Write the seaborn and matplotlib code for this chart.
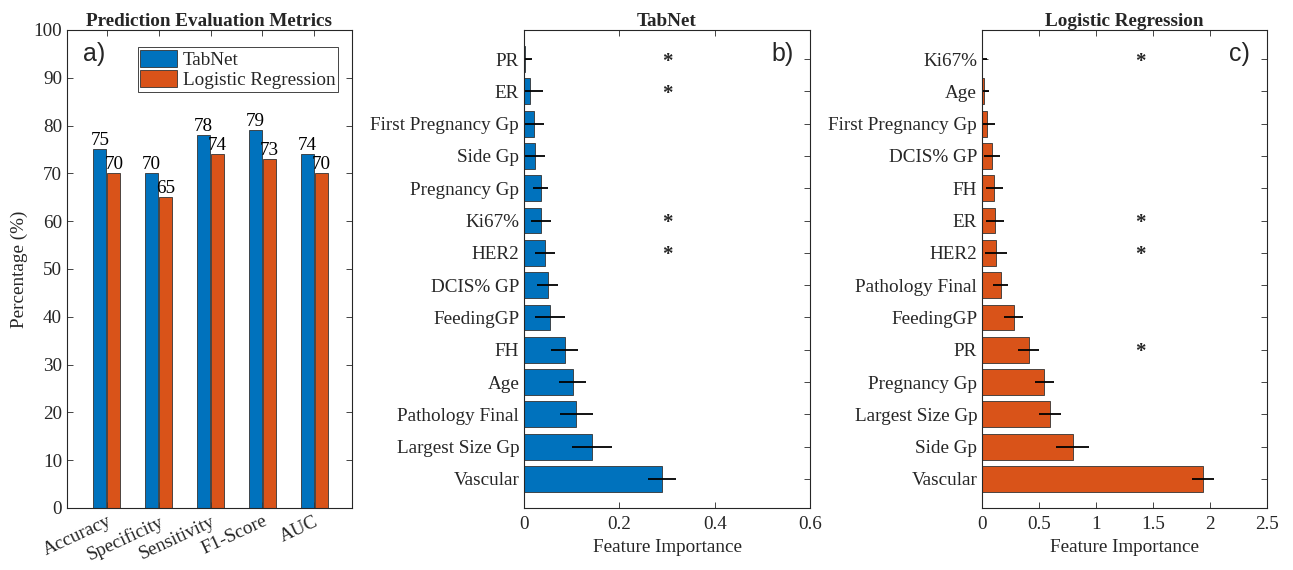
import matplotlib
matplotlib.use("Agg")
import matplotlib.pyplot as plt
import matplotlib.ticker as mticker
import seaborn as sns
import pandas as pd
import numpy as np

# ---- data ----
metrics = ["Accuracy", "Specificity", "Sensitivity", "F1-Score", "AUC"]
tabnet_scores = [75, 70, 78, 79, 74]
logreg_scores = [70, 65, 74, 73, 70]

tabnet_features = ["PR", "ER", "First Pregnancy Gp", "Side Gp", "Pregnancy Gp", "Ki67%",
                   "HER2", "DCIS% GP", "FeedingGP", "FH", "Age", "Pathology Final",
                   "Largest Size Gp", "Vascular"]
tabnet_importance = [0.002, 0.013, 0.021, 0.023, 0.035, 0.035, 0.043, 0.050, 0.055,
                     0.085, 0.102, 0.110, 0.143, 0.289]
tabnet_err = [0.015, 0.027, 0.020, 0.021, 0.016, 0.021, 0.021, 0.022, 0.031,
              0.028, 0.029, 0.035, 0.042, 0.029]
tabnet_signif = ["PR", "ER", "Ki67%", "HER2"]

logreg_features = ["Ki67%", "Age", "First Pregnancy Gp", "DCIS% GP", "FH", "ER", "HER2",
                   "Pathology Final", "FeedingGP", "PR", "Pregnancy Gp", "Largest Size Gp",
                   "Side Gp", "Vascular"]
logreg_importance = [0.003, 0.020, 0.044, 0.090, 0.108, 0.114, 0.123, 0.164, 0.278,
                     0.409, 0.547, 0.596, 0.795, 1.940]
logreg_err = [0.040, 0.038, 0.066, 0.070, 0.072, 0.077, 0.094, 0.066, 0.082,
              0.092, 0.086, 0.099, 0.143, 0.098]
logreg_signif = ["Ki67%", "ER", "HER2", "PR"]

BLUE = "#0072BD"
ORANGE = "#D95319"
TXT = "#262626"
FS = 13.8

sns.set_style("ticks")
plt.rcParams["font.family"] = ["Liberation Serif", "DejaVu Serif"]
plt.rcParams["font.size"] = FS
plt.rcParams["axes.edgecolor"] = "#262626"
plt.rcParams["axes.linewidth"] = 0.8
plt.rcParams["xtick.color"] = TXT
plt.rcParams["ytick.color"] = TXT

fig = plt.figure(figsize=(12.93, 5.70), dpi=100)
ax_a = fig.add_axes([0.0518, 0.1088, 0.2204, 0.8386])
ax_b = fig.add_axes([0.4053, 0.1088, 0.2212, 0.8386])
ax_c = fig.add_axes([0.7595, 0.1088, 0.2204, 0.8386])


def style_axes(ax):
    ax.tick_params(direction="in", top=True, right=True, length=4, width=0.6,
                   labelsize=FS)
    for s in ax.spines.values():
        s.set_visible(True)
        s.set_color("#262626")


# ---- a) prediction metrics ----
scores = pd.DataFrame({
    "Metric": metrics * 2,
    "Score": tabnet_scores + logreg_scores,
    "Model": ["TabNet"] * len(metrics) + ["Logistic Regression"] * len(metrics),
})
sns.barplot(data=scores, x="Metric", y="Score", hue="Model", order=metrics,
            hue_order=["TabNet", "Logistic Regression"],
            palette=[BLUE, ORANGE], width=0.54, gap=0.06, saturation=1,
            edgecolor="#333333", linewidth=0.6, ax=ax_a)
for cont in ax_a.containers:
    ax_a.bar_label(cont, fmt="%d", padding=0, fontsize=FS, color="black")
ax_a.set_xlim(-0.77, 4.73)
ax_a.set_ylim(0, 100)
ax_a.set_yticks(np.arange(0, 101, 10))
ax_a.set_xlabel("")
ax_a.set_ylabel("Percentage (%)", fontsize=FS, color=TXT)
ax_a.set_title("Prediction Evaluation Metrics", fontsize=FS, fontweight="bold", pad=3)
plt.setp(ax_a.get_xticklabels(), rotation=25, ha="right", rotation_mode="anchor")
ax_a.legend(loc="upper right", fontsize=FS, frameon=True, fancybox=False,
            edgecolor="#262626", framealpha=1, handlelength=1.9, handleheight=1.0,
            borderpad=0.15, labelspacing=0.05, handletextpad=0.3,
            bbox_to_anchor=(0.985, 0.985))
ax_a.get_legend().get_frame().set_linewidth(0.6)
ax_a.text(0.055, 0.95, "a)", transform=ax_a.transAxes, fontsize=18,
          family="Liberation Sans", va="center", ha="left")
style_axes(ax_a)


# ---- b) and c) feature importance ----
def importance_panel(ax, feats, vals, errs, signif, color, xmax, xticks, star_x, title, tag):
    df = pd.DataFrame({"Feature": feats, "Importance": vals})
    sns.barplot(data=df, y="Feature", x="Importance", order=feats, orient="h",
                color=color, width=0.8, edgecolor="#333333", linewidth=0.6,
                saturation=1, ax=ax)
    ax.errorbar(vals, np.arange(len(feats)), xerr=errs, fmt="none",
                ecolor="black", elinewidth=1.3, capsize=0)
    for f in signif:
        ax.text(star_x, feats.index(f) + 0.08, "*", fontsize=15, fontweight="bold",
                ha="center", va="center")
    ax.set_xlim(0, xmax)
    ax.set_ylim(len(feats) - 0.1, -0.9)
    ax.set_xticks(xticks)
    ax.xaxis.set_major_formatter(mticker.FormatStrFormatter("%g"))
    ax.set_ylabel("")
    ax.set_xlabel("Feature Importance", fontsize=FS, color=TXT)
    ax.set_title(title, fontsize=FS, fontweight="bold", pad=3)
    ax.text(0.865, 0.95, tag, transform=ax.transAxes, fontsize=18,
            family="Liberation Sans", va="center", ha="left")
    style_axes(ax)
    ax.tick_params(axis="x", pad=6)


importance_panel(ax_b, tabnet_features, tabnet_importance, tabnet_err, tabnet_signif,
                 BLUE, 0.6, [0, 0.2, 0.4, 0.6], 0.3, "TabNet", "b)")
importance_panel(ax_c, logreg_features, logreg_importance, logreg_err, logreg_signif,
                 ORANGE, 2.5, [0, 0.5, 1, 1.5, 2, 2.5], 1.39, "Logistic Regression", "c)")

fig.savefig("out.png", dpi=100)
